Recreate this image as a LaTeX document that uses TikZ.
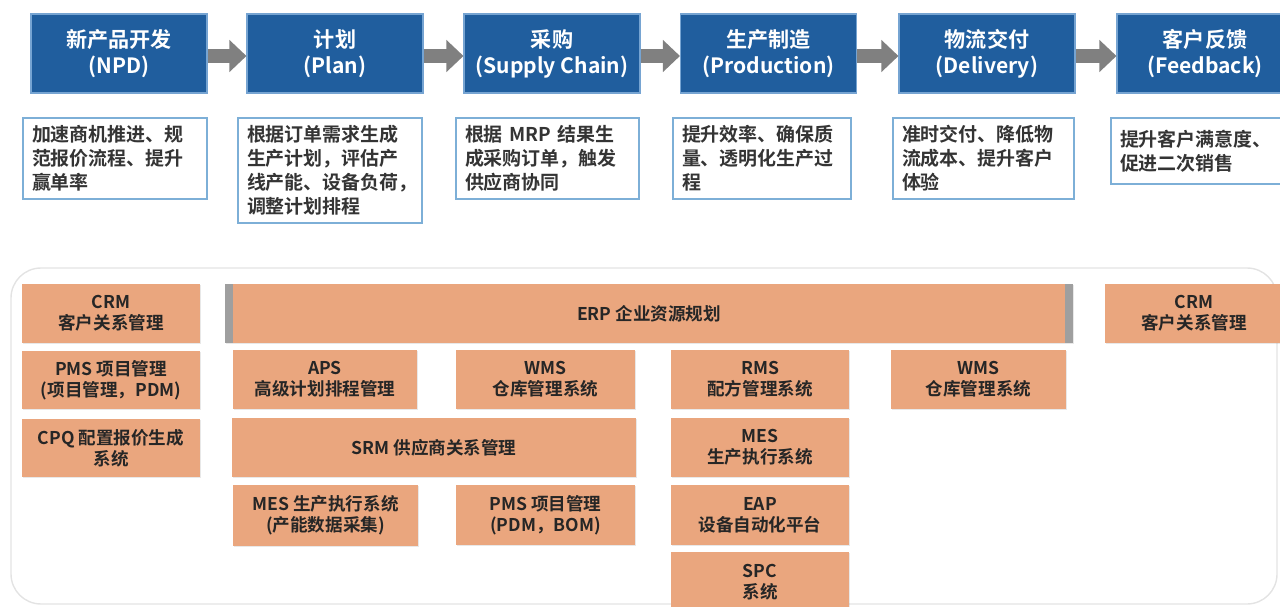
\documentclass[tikz,border=0pt]{standalone}
\usepackage{fontspec}
\setmainfont{Noto Sans CJK SC}[BoldFont={Noto Sans CJK SC Bold}]
\usepackage{xcolor}
\usepackage{tikz}
\usetikzlibrary{positioning,arrows.meta,shadows}

\definecolor{stageblue}{RGB}{32,94,158}
\definecolor{stageedge}{RGB}{118,164,210}
\definecolor{flowgray}{RGB}{128,128,128}
\definecolor{noteedge}{RGB}{125,175,215}
\definecolor{notetext}{RGB}{52,52,52}
\definecolor{sysorange}{RGB}{234,166,126}
\definecolor{systext}{RGB}{38,38,38}

\begin{document}
\begin{tikzpicture}[x=0.02cm, y=-0.02cm,
    wh/.style 2 args={minimum width=#1*0.02cm, minimum height=#2*0.02cm},
    stage/.style={rectangle, fill=stageblue, draw=stageedge, line width=0.6pt, inner sep=0pt,
        text=white, align=center, font=\bfseries\fontsize{12}{14.7}\selectfont, wh={176}{79}},
    note/.style={rectangle, draw=noteedge, line width=0.7pt, fill=white, inner sep=0pt,
        text=notetext, font=\bfseries\fontsize{10.8}{13.6}\selectfont, align=left},
    sys/.style={rectangle, fill=sysorange, inner sep=0pt, text=systext, align=center,
        font=\bfseries\fontsize{10}{12}\selectfont,
        drop shadow={shadow xshift=0.6pt, shadow yshift=-0.6pt, opacity=0.18}},
    flow/.style={-{Triangle[length=0.34cm, width=0.62cm]}, line width=0.28cm, flowgray},
]
\useasboundingbox (0,0) rectangle (1280,607);

% Stages
\node[stage] (npd)  at (119,53.5)  {新产品开发\\(NPD)};
\node[stage] (plan) at (335,53.5)  {计划\\(Plan)};
\node[stage] (scm)  at (552,53.5)  {采购\\(Supply Chain)};
\node[stage] (prod) at (768.5,53.5) {生产制造\\(Production)};
\node[stage] (dlv)  at (987,53.5)  {物流交付\\(Delivery)};
\node[stage] (fbk)  at (1205,53.5) {客户反馈\\(Feedback)};

% Flow arrows
\foreach \a/\b in {npd/plan, plan/scm, scm/prod, prod/dlv, dlv/fbk}
    \draw[flow] ([yshift=-0.05cm]\a.east) -- ([yshift=-0.05cm]\b.west);

% Goals of each stage
\node[note, wh={184}{81}, text width=166*0.02cm] (npdnote) at (115,158.5)
    {加速商机推进、规\\范报价流程、提升\\赢单率};
\node[note, wh={184}{105}, text width=166*0.02cm] (plannote) at (330,170.5)
    {根据订单需求生成\\生产计划，评估产\\线产能、设备负荷，\\调整计划排程};
\node[note, wh={183}{81}, text width=165*0.02cm] (scmnote) at (547.5,158.5)
    {根据 MRP 结果生\\成采购订单，触发\\供应商协同};
\node[note, wh={178}{81}, text width=160*0.02cm] (prodnote) at (762,158.5)
    {提升效率、确保质\\量、透明化生产过\\程};
\node[note, wh={181}{81}, text width=163*0.02cm] (dlvnote) at (983.5,158.5)
    {准时交付、降低物\\流成本、提升客户\\体验};
\node[note, wh={182}{66}, text width=164*0.02cm] (fbknote) at (1202,151)
    {提升客户满意度、\\促进二次销售};

% Systems panel
\draw[gray!22, line width=0.8pt, rounded corners=0.6cm] (11,268) rectangle (1277,604);

\node[sys, wh={178}{59}] (crml) at (111,313.5) {CRM\\客户关系管理};
\node[sys, wh={178}{58}] (pmsl) at (111,380)   {PMS 项目管理\\(项目管理，PDM)};
\node[sys, wh={178}{58}] (cpq)  at (111,448)   {CPQ 配置报价生成\\系统};

\node[sys, wh={848}{59}, path picture={
        \fill[gray!75] (path picture bounding box.north west) rectangle ([xshift=0.16cm]path picture bounding box.south west);
        \fill[gray!75] (path picture bounding box.north east) rectangle ([xshift=-0.16cm]path picture bounding box.south east);}]
    (erp) at (649,313.5) {ERP 企业资源规划};

\node[sys, wh={184}{59}] (aps)  at (325,379.5)   {APS\\高级计划排程管理};
\node[sys, wh={179}{59}] (wmsa) at (545.5,379.5) {WMS\\仓库管理系统};
\node[sys, wh={404}{59}] (srm)  at (434,447.5)   {SRM 供应商关系管理};
\node[sys, wh={185}{61}] (mesa) at (325.5,515.5) {MES 生产执行系统\\(产能数据采集)};
\node[sys, wh={179}{60}] (pmsb) at (545.5,515)   {PMS 项目管理\\(PDM，BOM)};

\node[sys, wh={178}{59}] (rms)  at (760,379.5) {RMS\\配方管理系统};
\node[sys, wh={178}{59}] (mesb) at (760,447.5) {MES\\生产执行系统};
\node[sys, wh={178}{60}] (eap)  at (760,515)   {EAP\\设备自动化平台};
\node[sys, wh={178}{60}] (spc)  at (760,582)   {SPC\\系统};

\node[sys, wh={175}{59}] (wmsb) at (978.5,379.5) {WMS\\仓库管理系统};
\node[sys, wh={178}{59}] (crmr) at (1194,313.5)  {CRM\\客户关系管理};
\end{tikzpicture}
\end{document}
